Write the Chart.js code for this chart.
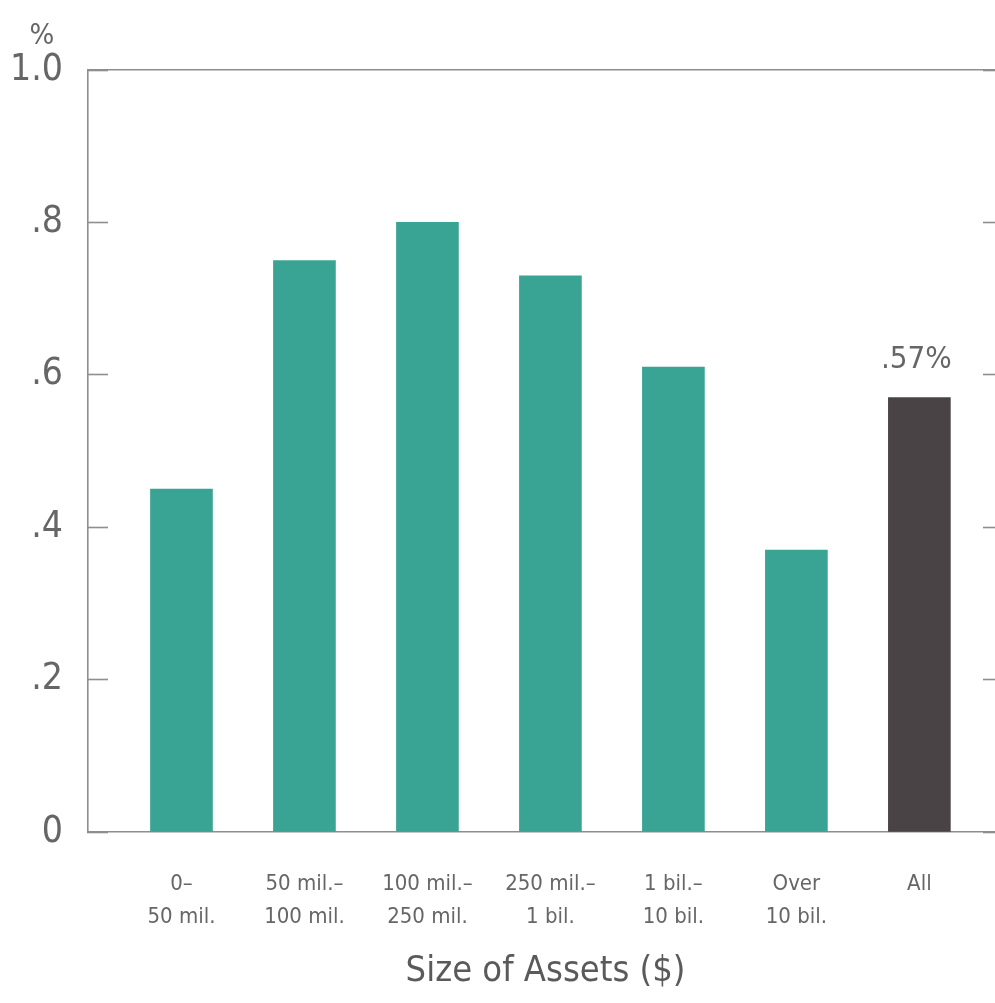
<!DOCTYPE html>
<html>
<head>
<meta charset="utf-8">
<script src="https://cdn.jsdelivr.net/npm/chart.js@4/dist/chart.umd.min.js"></script>
<style>
  html, body { margin: 0; padding: 0; background: #ffffff; overflow: hidden; }
  #wrap { position: relative; width: 1005px; height: 1003px; }
</style>
</head>
<body>
<div id="wrap"><canvas id="chart"></canvas></div>
<script>
// Asset-size groups (two-line labels) and the rate for each group, in percent
const categories = [
  ['0–', '50 mil.'],
  ['50 mil.–', '100 mil.'],
  ['100 mil.–', '250 mil.'],
  ['250 mil.–', '1 bil.'],
  ['1 bil.–', '10 bil.'],
  ['Over', '10 bil.'],
  ['All']
];
const rates = [0.45, 0.75, 0.80, 0.73, 0.61, 0.37, 0.57];
const yTicks = [0, 0.2, 0.4, 0.6, 0.8, 1.0];
const axisTitle = 'Size of Assets ($)';
const unitLabel = '%';

const FONT = "'Liberation Sans Narrow', 'DejaVu Sans Condensed', 'Liberation Sans', sans-serif";
const TEAL = '#3aa494';
const DARK = '#4a4345';
const LINE = '#8e8e8e';
const TEXT = '#666666';

function fmtRate(v) {
  if (Math.abs(v) < 1e-9) return '0';
  return v.toFixed(v >= 1 ? 1 : (Math.round(v * 100) % 10 === 0 ? 1 : 2)).replace(/^0(?=\.)/, '');
}

// Value label over the overall ("All") bar and the unit sign over the value axis
const annotations = {
  id: 'annotations',
  afterDatasetsDraw(chart) {
    const ctx = chart.ctx;
    const meta = chart.getDatasetMeta(0);
    const last = rates.length - 1;
    const bar = meta.data[last];
    ctx.save();
    ctx.fillStyle = TEXT;
    ctx.font = '31px ' + FONT;
    ctx.textAlign = 'center';
    ctx.textBaseline = 'bottom';
    ctx.fillText(fmtRate(rates[last]) + '%', bar.x - 3, bar.y - 22);

    const y = chart.scales.y;
    ctx.font = '29px ' + FONT;
    ctx.textBaseline = 'middle';
    ctx.fillText(unitLabel, y.right - 46, chart.chartArea.top - 34);
    ctx.restore();
  }
};

new Chart(document.getElementById('chart'), {
  type: 'bar',
  data: {
    datasets: [{
      data: rates.map((v, i) => ({ x: i, y: v })),
      backgroundColor: (c) => c.dataIndex === rates.length - 1 ? DARK : TEAL,
      borderWidth: 0,
      barThickness: 62
    }]
  },
  options: {
    responsive: true,
    maintainAspectRatio: false,
    animation: false,
    layout: { padding: { top: 70, right: 2, bottom: 0, left: 0 } },
    plugins: {
      legend: { display: false },
      tooltip: { enabled: false }
    },
    scales: {
      x: {
        type: 'linear',
        position: 'bottom',
        offset: false,
        min: -0.76,
        max: 6.68,
        afterBuildTicks: (s) => { s.ticks = categories.map((_, i) => ({ value: i })); },
        afterFit: (s) => { s.height = 171; },
        grid: { display: false, drawTicks: false, offset: false },
        border: { display: true, color: LINE, width: 1.6 },
        ticks: {
          autoSkip: false,
          maxRotation: 0,
          padding: 36,
          color: TEXT,
          font: { family: FONT, size: 22, lineHeight: 1.5 },
          callback: (v) => categories[v]
        },
        title: {
          display: true,
          text: axisTitle,
          color: '#5a5a5a',
          font: { family: FONT, size: 36, lineHeight: 1.2 },
          padding: { top: 0, bottom: 10 }
        }
      },
      xTop: {
        type: 'linear',
        position: 'top',
        offset: false,
        min: -0.76,
        max: 6.68,
        afterFit: (s) => { s.height = 0; },
        grid: { display: false, drawTicks: false },
        border: { display: true, color: LINE, width: 1.6 },
        ticks: { display: false }
      },
      y: {
        type: 'linear',
        position: 'left',
        min: 0,
        max: 1,
        afterBuildTicks: (s) => { s.ticks = yTicks.map(v => ({ value: v })); },
        afterFit: (s) => { s.width = 88; },
        grid: { display: true, drawOnChartArea: false, drawTicks: true, tickLength: -20, tickColor: LINE, tickWidth: 1.6 },
        border: { display: true, color: LINE, width: 1.6 },
        ticks: {
          padding: 45,
          color: TEXT,
          font: { family: FONT, size: 37 },
          callback: (v) => fmtRate(v)
        }
      },
      yRight: {
        type: 'linear',
        position: 'right',
        min: 0,
        max: 1,
        afterBuildTicks: (s) => { s.ticks = yTicks.map(v => ({ value: v })); },
        afterFit: (s) => { s.width = 0; },
        grid: { display: true, drawOnChartArea: false, drawTicks: true, tickLength: -20, tickColor: LINE, tickWidth: 1.6 },
        border: { display: false },
        ticks: { display: false }
      }
    }
  },
  plugins: [annotations]
});
</script>
</body>
</html>
